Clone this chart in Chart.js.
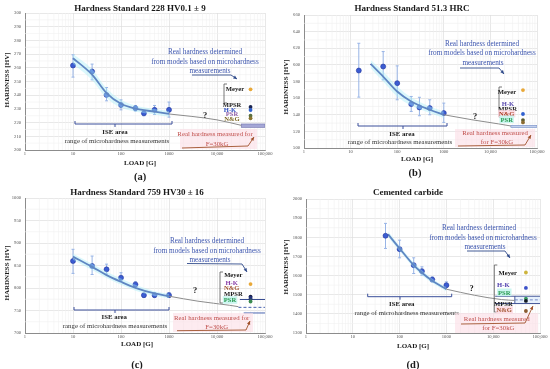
<!DOCTYPE html>
<html><head><meta charset="utf-8">
<script src="https://cdn.jsdelivr.net/npm/chart.js@4.4.1/dist/chart.umd.min.js"></script>
<style>
html,body{margin:0;padding:0;background:#fff;}
#wrap{position:relative;width:550px;height:369px;overflow:hidden;background:#fff}
canvas{position:absolute}
</style></head><body>
<div id="wrap">
<canvas id="cA" width="275" height="185" style="left:0;top:0;width:275px;height:185px"></canvas>
<canvas id="cB" width="275" height="185" style="left:275px;top:0;width:275px;height:185px"></canvas>
<canvas id="cC" width="275" height="184" style="left:0;top:185px;width:275px;height:184px"></canvas>
<canvas id="cD" width="275" height="184" style="left:275px;top:185px;width:275px;height:184px"></canvas>
</div>
<script>
// ---------- shared axis data ----------
const xTickValues = [1, 10, 100, 1000, 10000, 100000];
const xTickLabels = ['1', '10', '100', '1000', '10,000', '100,000'];
const methodLoad = 50000;

// ---------- panel (a) ----------
const loadsA = [10, 25, 50, 100, 200, 300, 500, 1000];
const hvA = [261.7, 257.3, 240.2, 232.9, 230.5, 226.8, 229.3, 229.3];
const errHiA = [269.5, 262.7, 245.6, 236.6, 232.5, 229.0, 232.5, 235.0];
const errLoA = [253.2, 251.2, 235.9, 229.3, 228.5, 225.0, 226.0, 224.0];
const fitLoadsA = [10, 25, 50, 100, 200, 500, 1000];
const fitA = [267, 255, 241.5, 233.7, 230.2, 228, 226.3];
const bandHiA = [270, 259, 245, 236.5, 232.5, 230, 228.5];
const bandLoA = [263, 251, 238, 231, 228, 226, 224.3];
const extLoadsA = [1000, 3000, 10000, 32000];
const extA = [226.3, 224.5, 222, 218];
const methodsA = [244.3, 231.4, 229.2, 225.0, 223.1];
const measuredA = [216.5, 219.0];
const yTicksA = [200, 300, 10];

// ---------- panel (b) ----------
const loadsB = [15, 50, 100, 200, 300, 500, 1000];
const hvB = [593.2, 598, 578, 552.8, 548.8, 548, 542];
const errHiB = [626, 616, 598.8, 562, 561, 558, 554];
const errLoB = [561.2, 582, 558, 544, 538.8, 540, 530.8];
const fitLoadsB = [27, 50, 100, 200, 500, 1000];
const fitB = [601.2, 586, 568, 556, 546, 540];
const bandHiB = [606, 592, 574, 561, 550, 544];
const bandLoB = [596, 580, 562, 551, 542, 536];
const extLoadsB = [1000, 4000, 15000, 27500];
const extB = [540, 534, 529, 526.5];
const methodsB = [569.7, 540.9, 533.6, 530.8];
const measuredB = [524.8, 527.2];
const yTicksB = [500, 660, 20];

// ---------- panel (c) ----------
const loadsC = [10, 25, 50, 100, 200, 300, 500, 1000];
const hvC = [860, 849, 841.4, 822.8, 807.9, 784, 784, 784];
const errHiC = [886, 871, 853, 834, 814, 788, 789, 790];
const errLoC = [832.5, 830, 831, 816, 803, 779, 779, 779];
const fitLoadsC = [10, 25, 50, 100, 200, 500, 1000];
const fitC = [869.7, 847, 828.7, 813.8, 800.4, 787.8, 781.8];
const bandHiC = [876, 854, 836, 821, 807, 793, 787];
const bandLoC = [863, 840, 822, 807, 794, 782, 777];
const extLoadsC = [1000, 4000, 18000, 28000];
const extC = [781.8, 770.7, 761.7, 758.5];
const methodsC = [808.7, 781, 778, 775, 770];
const measuredC = [744.5, 757, 774.5];
const yTicksC = [700, 1000, 50];

// ---------- panel (d) ----------
const loadsD = [50, 100, 200, 300, 500, 1000];
const hvD = [1808, 1738, 1654.5, 1623, 1579, 1549.7];
const errHiD = [1872.6, 1785, 1692.8, 1645.7, 1593, 1567];
const errLoD = [1741.7, 1692.8, 1610.8, 1602, 1567, 1537.5];
const fitLoadsD = [57, 100, 200, 300, 500, 1000];
const fitD = [1815, 1741.7, 1654.5, 1614.5, 1572.4, 1528.8];
const bandHiD = [1830, 1755, 1668, 1628, 1584, 1540];
const bandLoD = [1800, 1728, 1641, 1601, 1561, 1518];
const extLoadsD = [1000, 4000, 15000, 29000];
const extD = [1528.8, 1497, 1474.7, 1470];
const methodsD = [1616, 1535.6, 1480, 1467.5, 1415];
const measuredD = [1454, 1473, 1492];
const yTicksD = [1300, 2000, 100];

// ---------- styling ----------
const SERIF = "'Liberation Serif','DejaVu Serif',serif";
const F = {
  title: 'bold 9px ' + SERIF, axis: 'bold 7px ' + SERIF, sub: 'bold 10.5px ' + SERIF,
  ann: '7.2px ' + SERIF, ise: 'bold 6.8px ' + SERIF, rng: '6.8px ' + SERIF,
  red: '6.8px ' + SERIF, lab: 'bold 6.6px ' + SERIF, q: 'bold 8.5px ' + SERIF
};
const BLUE_T = '#3c55ae', RED_T = '#c0504d', DARK = '#1a1a1a';

function pts(xs, ys) { return xs.map((x, i) => ({ x: x, y: ys[i] })); }

function text(ctx, s, x, y, font, color, bg, rot) {
  ctx.save();
  ctx.font = font; ctx.textAlign = 'center'; ctx.textBaseline = 'middle';
  ctx.translate(x, y);
  if (rot) ctx.rotate(-Math.PI / 2);
  if (bg) { const w = ctx.measureText(s).width; ctx.fillStyle = bg; ctx.fillRect(-w / 2 - 1, -3.8, w + 2, 7.6); }
  ctx.fillStyle = color; ctx.fillText(s, 0, 0.5);
  ctx.restore();
}
function poly(ctx, p, color, w, arrow) {
  ctx.save(); ctx.strokeStyle = color; ctx.lineWidth = w || 1;
  ctx.beginPath(); ctx.moveTo(p[0][0], p[0][1]);
  for (let i = 1; i < p.length; i++) ctx.lineTo(p[i][0], p[i][1]);
  ctx.stroke();
  if (arrow) {
    const a = p[p.length - 2], b = p[p.length - 1];
    const ang = Math.atan2(b[1] - a[1], b[0] - a[0]);
    ctx.fillStyle = color; ctx.beginPath();
    ctx.moveTo(b[0], b[1]);
    ctx.lineTo(b[0] - 4 * Math.cos(ang - 0.45), b[1] - 4 * Math.sin(ang - 0.45));
    ctx.lineTo(b[0] - 4 * Math.cos(ang + 0.45), b[1] - 4 * Math.sin(ang + 0.45));
    ctx.closePath(); ctx.fill();
  }
  ctx.restore();
}
function iseBracket(ctx, x0, x1, y, xm) {
  poly(ctx, [[x0, y - 3], [x0, y], [x1, y], [x1, y - 3]], '#3b4f9a', 1);
  poly(ctx, [[xm, y], [xm, y + 3]], '#3b4f9a', 1);
}
function labBracket(ctx, x, y0, y1) {
  poly(ctx, [[x + 3, y0], [x, y0], [x, y1], [x + 3, y1]], '#555', 0.8);
}

function build(id, P) {
  const cv = document.getElementById(id);
  const W = cv.width, H = cv.height;
  const plug = {
    id: 'deco' + id,
    beforeDatasetsDraw(chart) {
      const { ctx, chartArea: a, scales: { x, y } } = chart;
      ctx.save();
      ctx.beginPath(); ctx.rect(a.left, a.top, a.right - a.left, a.bottom - a.top); ctx.clip();
      ctx.strokeStyle = '#f0f0f0'; ctx.lineWidth = 0.6;
      for (let d = 1; d < 100000; d *= 10) for (let k = 2; k < 10; k++) {
        const px = x.getPixelForValue(d * k);
        ctx.beginPath(); ctx.moveTo(px, a.top); ctx.lineTo(px, a.bottom); ctx.stroke();
      }
      for (let v = P.yt[0] + P.yt[2] / 2; v < P.yt[1]; v += P.yt[2]) {
        const py = y.getPixelForValue(v);
        ctx.beginPath(); ctx.moveTo(a.left, py); ctx.lineTo(a.right, py); ctx.stroke();
      }
      if (P.right) P.right(ctx, x, y, a);
      ctx.restore();
    },
    beforeDatasetDraw(chart, args) {
      if (args.index !== 4) return;
      const { ctx, scales: { x, y } } = chart;
      ctx.save(); ctx.strokeStyle = '#98b4e6'; ctx.lineWidth = 1;
      P.loads.forEach((l, i) => {
        const px = x.getPixelForValue(l);
        const y0 = y.getPixelForValue(P.lo[i]), y1 = y.getPixelForValue(P.hi[i]);
        ctx.beginPath(); ctx.moveTo(px, y0); ctx.lineTo(px, y1);
        ctx.moveTo(px - 1.5, y0); ctx.lineTo(px + 1.5, y0);
        ctx.moveTo(px - 1.5, y1); ctx.lineTo(px + 1.5, y1); ctx.stroke();
      });
      ctx.restore();
    },
    afterDraw(chart) { P.ann(chart.ctx); }
  };
  return new Chart(cv, {
    type: 'scatter',
    data: {
      datasets: [
        { type: 'line', data: pts(P.fitX, P.bandHi), showLine: true, borderWidth: 0, pointRadius: 0, fill: '+1', backgroundColor: 'rgba(170,238,248,0.42)', cubicInterpolationMode: 'monotone' },
        { type: 'line', data: pts(P.fitX, P.bandLo), showLine: true, borderWidth: 0, pointRadius: 0, fill: false, cubicInterpolationMode: 'monotone' },
        { type: 'line', data: pts(P.extX, P.ext), showLine: true, borderColor: '#8c8c8c', borderWidth: 1, pointRadius: 0, fill: false, cubicInterpolationMode: 'monotone' },
        { type: 'line', data: pts(P.fitX, P.fit), showLine: true, borderColor: '#2a3c9c', borderWidth: 1.8, pointRadius: 0, fill: false, cubicInterpolationMode: 'monotone' },
        { data: pts(P.loads, P.hv), pointRadius: 2.5, backgroundColor: '#3b5cd2', borderColor: '#24359c', borderWidth: 0.6 },
        { data: P.methods.map(v => ({ x: methodLoad, y: v })), pointRadius: 1.9, backgroundColor: P.mcol, borderWidth: 0 }
      ]
    },
    options: {
      responsive: false, animation: false, devicePixelRatio: 1,
      layout: { padding: { top: P.T, right: W - P.R, left: 0, bottom: 0 } },
      plugins: { legend: { display: false }, tooltip: { enabled: false } },
      scales: {
        x: {
          type: 'logarithmic', min: 1, max: 100000,
          afterBuildTicks(s) { s.ticks = xTickValues.map(v => ({ value: v })); },
          afterFit(s) { s.height = H - P.B; },
          ticks: { autoSkip: false, maxRotation: 0, padding: 1.5, color: '#555', font: { size: 4.6, family: SERIF },
            callback: (v, i) => xTickLabels[i] },
          grid: { color: '#dedede', lineWidth: 0.7, drawTicks: false },
          border: { color: '#8c8c8c', width: 1 }
        },
        y: {
          min: P.yt[0], max: P.yt[1],
          afterFit(s) { s.width = P.L; },
          ticks: { stepSize: P.yt[2], padding: 4, color: '#555', font: { size: 4.6, family: SERIF },
            callback: v => String(v) },
          grid: { color: '#dedede', lineWidth: 0.7, drawTicks: false },
          border: { color: '#8c8c8c', width: 1 }
        }
      }
    },
    plugins: [plug]
  });
}

// ---------- panels ----------
build('cA', {
  L: 25, R: 265, T: 13, B: 150, yt: yTicksA,
  loads: loadsA, hv: hvA, hi: errHiA, lo: errLoA, fitX: fitLoadsA, fit: fitA, bandHi: bandHiA, bandLo: bandLoA,
  extX: extLoadsA, ext: extA, methods: methodsA, mcol: ['#e8a838', '#1c2550', '#2f62d0', '#5a7040', '#8a7430'],
  right(ctx, x, y, a) {
    const x0 = x.getPixelForValue(32000), y0 = y.getPixelForValue(measuredA[1]), y1 = y.getPixelForValue(measuredA[0]);
    ctx.fillStyle = '#a4a6d6'; ctx.fillRect(x0, y0, a.right - x0, y1 - y0);
    ctx.strokeStyle = '#7072aa'; ctx.lineWidth = 0.6; ctx.strokeRect(x0, y0, a.right - x0, y1 - y0);
  },
  ann(ctx) {
    text(ctx, 'Hardness Standard 228 HV0.1 ± 9', 140, 8, F.title, DARK);
    text(ctx, 'LOAD [G]', 140, 163, F.axis, DARK);
    text(ctx, 'HARDNESS [HV]', 7, 80, F.axis, DARK, null, true);
    text(ctx, '(a)', 140, 177, F.sub, DARK);
    text(ctx, 'Real hardness determined', 205, 52, F.ann, BLUE_T);
    text(ctx, 'from models based on microhardness', 205, 62, F.ann, BLUE_T);
    text(ctx, 'measurements', 210, 71, F.ann, BLUE_T);
    poly(ctx, [[192, 75], [231, 75], [237, 79]], '#2f4a8a', 0.9, true);
    labBracket(ctx, 224, 84, 103);
    text(ctx, 'Meyer', 235, 89, F.lab, DARK);
    text(ctx, 'MPSR', 232, 104.3, F.lab, DARK);
    text(ctx, 'H-K', 230, 109.3, F.lab, '#3050c0');
    text(ctx, 'PSR', 232, 113.6, F.lab, '#9060a8');
    text(ctx, 'N&G', 232, 118.6, F.lab, '#7a6420');
    text(ctx, '?', 205, 115, F.q, DARK);
    iseBracket(ctx, 75, 172, 124, 115);
    text(ctx, 'ISE area', 115, 132, F.ise, DARK);
    text(ctx, 'range of microhardness measurements', 117, 141, F.rng, '#333');
    ctx.fillStyle = 'rgba(252,222,230,0.6)'; ctx.fillRect(180, 129, 77, 20);
    text(ctx, 'Real hardness measured for', 215, 134, F.red, RED_T);
    text(ctx, 'F=30kG', 217, 144, F.red, RED_T);
    poly(ctx, [[182, 148], [248, 146], [254, 137]], '#a0522d', 0.9, true);
  }
});

build('cB', {
  L: 29, R: 262, T: 15, B: 148, yt: yTicksB,
  loads: loadsB, hv: hvB, hi: errHiB, lo: errLoB, fitX: fitLoadsB, fit: fitB, bandHi: bandHiB, bandLo: bandLoB,
  extX: extLoadsB, ext: extB, methods: methodsB, mcol: ['#e8a838', '#3060d0', '#5a5a30', '#8a6a30'],
  right(ctx, x, y, a) {
    const x0 = x.getPixelForValue(27500), y0 = y.getPixelForValue(measuredB[1]), y1 = y.getPixelForValue(measuredB[0]);
    ctx.fillStyle = '#c2d0ee'; ctx.fillRect(x0, y0, a.right - x0, y1 - y0);
    ctx.strokeStyle = '#6f88c4'; ctx.lineWidth = 0.6; ctx.strokeRect(x0, y0, a.right - x0, y1 - y0);
  },
  ann(ctx) {
    text(ctx, 'Hardness Standard 51.3 HRC', 137, 8, F.title, DARK);
    text(ctx, 'LOAD [G]', 142, 159, F.axis, DARK);
    text(ctx, 'HARDNESS [HV]', 11, 87, F.axis, DARK, null, true);
    text(ctx, '(b)', 140, 173, F.sub, DARK);
    text(ctx, 'Real hardness determined', 207, 44, F.ann, BLUE_T);
    text(ctx, 'from models based on microhardness', 207, 53, F.ann, BLUE_T);
    text(ctx, 'measurements', 208, 63, F.ann, BLUE_T);
    poly(ctx, [[185, 68], [224, 68], [229, 74]], '#2f4a8a', 0.9, true);
    labBracket(ctx, 224, 87, 117);
    text(ctx, 'Meyer', 232, 92, F.lab, DARK);
    text(ctx, 'H-K', 233, 103.3, F.lab, '#5a4cb0');
    text(ctx, 'MPSR', 232.7, 108.3, F.lab, DARK);
    text(ctx, 'N&G', 231.7, 113.6, F.lab, '#a83a20', 'rgba(252,215,225,0.8)');
    text(ctx, 'PSR', 231.7, 119.3, F.lab, '#2a9a50', 'rgba(200,245,240,0.9)');
    text(ctx, '?', 200, 116, F.q, DARK);
    iseBracket(ctx, 83, 172, 126, 128);
    text(ctx, 'ISE area', 127, 134, F.ise, DARK);
    text(ctx, 'range of microhardness measurements', 125, 142, F.rng, '#333');
    ctx.fillStyle = 'rgba(252,222,230,0.6)'; ctx.fillRect(180, 129, 80, 18);
    text(ctx, 'Real hardness measured', 220, 133, F.red, RED_T);
    text(ctx, 'for F=30kG', 222, 142, F.red, RED_T);
    poly(ctx, [[183, 146], [250, 145], [256, 135]], '#a0522d', 0.9, true);
  }
});

build('cC', {
  L: 25, R: 265, T: 13, B: 148, yt: yTicksC,
  loads: loadsC, hv: hvC, hi: errHiC, lo: errLoC, fitX: fitLoadsC, fit: fitC, bandHi: bandHiC, bandLo: bandLoC,
  extX: extLoadsC, ext: extC, methods: methodsC, mcol: ['#e8a838', '#151a40', '#1f2f80', '#2a3a70', '#3a8a50'],
  right(ctx, x, y, a) {
    ctx.lineWidth = 1;
    ctx.strokeStyle = '#34478e';
    let py = y.getPixelForValue(measuredC[2]);
    ctx.beginPath(); ctx.moveTo(x.getPixelForValue(30000), py); ctx.lineTo(a.right, py); ctx.stroke();
    py = y.getPixelForValue(measuredC[1]);
    ctx.setLineDash([3, 2]); ctx.strokeStyle = '#4a64b0';
    ctx.beginPath(); ctx.moveTo(x.getPixelForValue(28000), py); ctx.lineTo(a.right, py); ctx.stroke();
    ctx.setLineDash([]);
    py = y.getPixelForValue(measuredC[0]); ctx.strokeStyle = '#4a64b0';
    ctx.beginPath(); ctx.moveTo(x.getPixelForValue(36000), py); ctx.lineTo(a.right, py); ctx.stroke();
  },
  ann(ctx) {
    text(ctx, 'Hardness Standard 759 HV30 ± 16', 137, 7, F.title, DARK);
    text(ctx, 'LOAD [G]', 137, 159, F.axis, DARK);
    text(ctx, 'HARDNESS [HV]', 7, 88, F.axis, DARK, null, true);
    text(ctx, '(c)', 137, 180, F.sub, DARK);
    text(ctx, 'Real hardness determined', 207, 56, F.ann, BLUE_T);
    text(ctx, 'from models based on microhardness', 207, 66, F.ann, BLUE_T);
    text(ctx, 'measurements', 210, 75, F.ann, BLUE_T);
    poly(ctx, [[187, 78.5], [242, 79], [247, 87]], '#2f4a8a', 0.9, true);
    labBracket(ctx, 220, 87, 118);
    text(ctx, 'Meyer', 233.3, 90, F.lab, DARK);
    text(ctx, 'H-K', 231.7, 97.3, F.lab, '#8a3fa8');
    text(ctx, 'N&G', 231.7, 102.7, F.lab, '#a0522d');
    text(ctx, 'MPSR', 233.3, 108.3, F.lab, DARK);
    text(ctx, 'PSR', 230, 115, F.lab, '#2a9a50', 'rgba(200,245,240,0.9)');
    text(ctx, '?', 195, 105, F.q, DARK);
    iseBracket(ctx, 74, 169, 125, 115);
    text(ctx, 'ISE area', 114.3, 132, F.ise, DARK);
    text(ctx, 'range of microhardness measurements', 115, 140.5, F.rng, '#333');
    ctx.fillStyle = 'rgba(252,222,230,0.6)'; ctx.fillRect(173, 128, 80, 19);
    text(ctx, 'Real hardness measured for', 211.7, 132.3, F.red, RED_T);
    text(ctx, 'F=30kG', 216.7, 141.7, F.red, RED_T);
    poly(ctx, [[177, 145.7], [246, 145], [250, 136]], '#a0522d', 0.9, true);
  }
});

build('cD', {
  L: 31, R: 265, T: 14, B: 148, yt: yTicksD,
  loads: loadsD, hv: hvD, hi: errHiD, lo: errLoD, fitX: fitLoadsD, fit: fitD, bandHi: bandHiD, bandLo: bandLoD,
  extX: extLoadsD, ext: extD, methods: methodsD, mcol: ['#cdb43c', '#3a50c8', '#3a9a60', '#101820', '#8a5a30'],
  right(ctx, x, y, a) {
    const xs = x.getPixelForValue(11000), x0 = x.getPixelForValue(29000);
    const yT = y.getPixelForValue(measuredD[2]), yM = y.getPixelForValue(measuredD[1]), yB = y.getPixelForValue(measuredD[0]);
    ctx.fillStyle = 'rgba(225,238,252,0.8)'; ctx.fillRect(x0, yT, a.right - x0, yB - yT);
    ctx.strokeStyle = '#34478e'; ctx.lineWidth = 0.9;
    ctx.beginPath(); ctx.moveTo(xs, yT); ctx.lineTo(a.right, yT); ctx.moveTo(xs, yB); ctx.lineTo(a.right, yB);
    ctx.moveTo(x0, yT); ctx.lineTo(x0, yB); ctx.stroke();
    ctx.setLineDash([3, 2]); ctx.strokeStyle = '#6a80c0';
    ctx.beginPath(); ctx.moveTo(x0, yM); ctx.lineTo(a.right, yM); ctx.stroke(); ctx.setLineDash([]);
  },
  ann(ctx) {
    text(ctx, 'Cemented carbide', 133, 7, F.title, DARK);
    text(ctx, 'LOAD [G]', 138, 161, F.axis, DARK);
    text(ctx, 'HARDNESS [HV]', 11, 82, F.axis, DARK, null, true);
    text(ctx, '(d)', 138, 180, F.sub, DARK);
    text(ctx, 'Real hardness determined', 204, 43, F.ann, BLUE_T);
    text(ctx, 'from models based on microhardness', 208, 52.3, F.ann, BLUE_T);
    text(ctx, 'measurements', 210, 61.7, F.ann, BLUE_T);
    poly(ctx, [[192, 66], [230, 66], [235, 73]], '#2f4a8a', 0.9, true);
    labBracket(ctx, 219.3, 80, 127);
    text(ctx, 'Meyer', 232.7, 87.3, F.lab, DARK);
    text(ctx, 'H-K', 228.3, 100, F.lab, '#5040b0');
    text(ctx, 'PSR', 229.3, 107.3, F.lab, '#2a9a50', 'rgba(200,245,240,0.9)');
    text(ctx, 'MPSR', 228.3, 119, F.lab, DARK);
    text(ctx, 'N&G', 229.3, 125, F.lab, '#a0522d', 'rgba(252,215,225,0.8)');
    text(ctx, '?', 196.7, 103, F.q, DARK);
    iseBracket(ctx, 92.7, 176.7, 111.7, 125);
    text(ctx, 'ISE area', 126.7, 118.3, F.ise, DARK);
    text(ctx, 'range of microhardness measurements', 131.7, 127.3, F.rng, '#333');
    ctx.fillStyle = 'rgba(252,222,230,0.6)'; ctx.fillRect(180, 128, 83, 20);
    text(ctx, 'Real hardness measured', 221.7, 134, F.red, RED_T);
    text(ctx, 'for F=30kG', 223.3, 142.7, F.red, RED_T);
    poly(ctx, [[186, 139], [250, 138], [258, 121]], '#a0522d', 0.9, true);
  }
});
</script>
</body></html>
